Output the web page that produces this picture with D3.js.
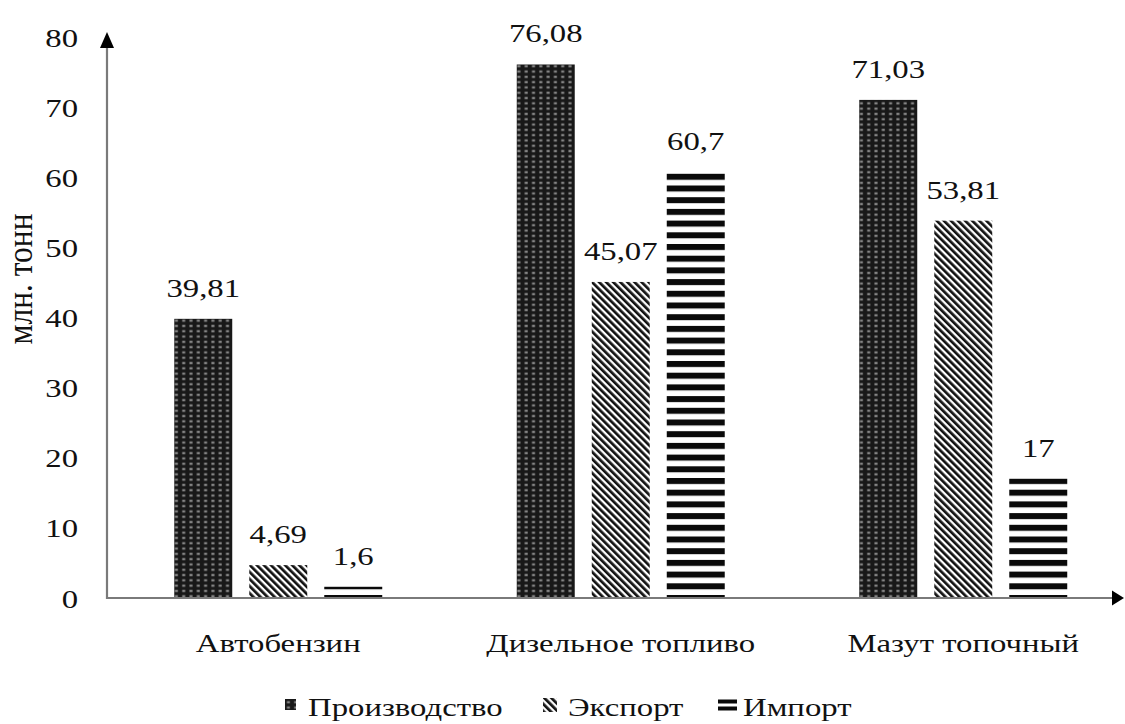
<!DOCTYPE html>
<html>
<head>
<meta charset="utf-8">
<script src="https://cdn.jsdelivr.net/npm/d3@7"></script>
<style>
  html, body { margin: 0; padding: 0; background: #fff; }
  svg text { font-family: "Liberation Serif", "Times New Roman", serif; fill: #111; }
</style>
</head>
<body>
<svg id="chart" width="1125" height="724"></svg>
<script>
// Petroleum products, million tonnes
const categories = ["Автобензин", "Дизельное топливо", "Мазут топочный"];
const seriesNames = ["Производство", "Экспорт", "Импорт"];
const production = [39.81, 76.08, 71.03];
const exportVals = [4.69, 45.07, 53.81];
const importVals = [1.6, 60.7, 17];
const yTicks = [0, 10, 20, 30, 40, 50, 60, 70, 80];
const yTitle = "млн. тонн";

const seriesValues = [production, exportVals, importVals];
const fmt = v => String(v).replace(".", ",");
const SX = 1.26; // horizontal stretch of lettering

const svg = d3.select("#chart");
const defs = svg.append("defs");

const x0 = 107, x1 = 1134.5, yBase = 598, yTop = 37;
const y = d3.scaleLinear().domain([0, 80]).range([yBase, yTop]);
const xGroup = d3.scaleBand().domain(categories).range([x0, x1]).padding(0);
const gw = xGroup.bandwidth();
const xSeries = d3.scaleBand().domain(seriesNames)
  .range([(gw - 225) / 2, (gw + 225) / 2])
  .paddingInner(0.227).paddingOuter(0.1135);

// fill patterns
const pDots = defs.append("pattern").attr("id", "pat0")
  .attr("patternUnits", "userSpaceOnUse").attr("width", 7.3).attr("height", 5.3);
pDots.append("rect").attr("width", 7.3).attr("height", 5.3).attr("fill", "#181818");
pDots.append("rect").attr("x", 2.2).attr("y", 1.5).attr("width", 3).attr("height", 2.3).attr("fill", "#858585");

const pDiag = defs.append("pattern").attr("id", "pat1")
  .attr("patternUnits", "userSpaceOnUse").attr("width", 5).attr("height", 10)
  .attr("patternTransform", "rotate(-45)");
pDiag.append("rect").attr("width", 5).attr("height", 10).attr("fill", "#fff");
pDiag.append("rect").attr("x", 0).attr("width", 2.7).attr("height", 10).attr("fill", "#111");

const pHoriz = defs.append("pattern").attr("id", "pat2")
  .attr("patternUnits", "userSpaceOnUse").attr("width", 10).attr("height", 11.7)
  .attr("y", yBase - 3);
pHoriz.append("rect").attr("width", 10).attr("height", 11.7).attr("fill", "#fff");
pHoriz.append("rect").attr("y", 0).attr("width", 10).attr("height", 6).attr("fill", "#0a0a0a");

const fills = ["url(#pat0)", "url(#pat1)", "url(#pat2)"];

// bars and value labels
const groups = svg.append("g").selectAll("g").data(categories).join("g")
  .attr("transform", d => `translate(${xGroup(d)},0)`);

groups.each(function(cat, ci) {
  const g = d3.select(this);
  const rows = seriesNames.map((s, si) => ({ s, si, v: seriesValues[si][ci] }));
  g.selectAll("rect.bar").data(rows).join("rect").attr("class", "bar")
    .attr("x", d => xSeries(d.s))
    .attr("y", d => y(d.v))
    .attr("width", xSeries.bandwidth())
    .attr("height", d => yBase - y(d.v))
    .attr("fill", d => fills[d.si]);
  g.selectAll("text.val").data(rows).join("text").attr("class", "val")
    .attr("transform", d => `translate(${xSeries(d.s) + xSeries.bandwidth() / 2},${y(d.v) - 22}) scale(${SX},1)`)
    .attr("text-anchor", "middle")
    .attr("font-size", 26)
    .text(d => fmt(d.v));
});

// axes with arrowheads
const axisColor = "#7a7a7a";
svg.append("line").attr("x1", x0).attr("x2", x0).attr("y1", yBase + 1).attr("y2", 46)
  .attr("stroke", axisColor).attr("stroke-width", 2.2);
svg.append("path").attr("d", `M${x0},32 L${x0 - 7},48 L${x0 + 7},48 Z`).attr("fill", "#000");
svg.append("line").attr("x1", x0 - 1).attr("x2", 1114).attr("y1", yBase).attr("y2", yBase)
  .attr("stroke", axisColor).attr("stroke-width", 2.2);
svg.append("path").attr("d", `M1124,${yBase} L1112,${yBase - 7.5} L1112,${yBase + 7.5} Z`).attr("fill", "#000");

// y tick labels
const yAxis = svg.append("g").attr("transform", `translate(${x0},0)`)
  .call(d3.axisLeft(y).tickValues(yTicks).tickSize(0).tickFormat(d3.format("d")));
yAxis.select(".domain").remove();
yAxis.selectAll(".tick text")
  .attr("x", null).attr("dy", null)
  .attr("transform", `translate(-29,9) scale(${SX},1)`)
  .attr("text-anchor", "end")
  .attr("font-family", "Liberation Serif, serif")
  .attr("font-size", 26)
  .attr("fill", "#111");

// y title
svg.append("text")
  .attr("transform", `translate(32,279) rotate(-90) scale(1.05,1.22)`)
  .attr("text-anchor", "middle")
  .attr("font-size", 30)
  .text(yTitle);

// category labels
svg.append("g").selectAll("text").data(categories).join("text")
  .attr("transform", d => `translate(${xGroup(d) + gw / 2},652) scale(${SX},1)`)
  .attr("text-anchor", "middle")
  .attr("font-size", 26)
  .text(d => d);

// legend
const legendItems = [
  { name: seriesNames[0], sx: 285, tx: 308 },
  { name: seriesNames[1], sx: 543, tx: 568 },
  { name: seriesNames[2], sx: 718, tx: 743 }
];
const lg = svg.append("g");
lg.append("rect").attr("x", legendItems[0].sx).attr("y", 699).attr("width", 11).attr("height", 11)
  .attr("fill", fills[0]);
lg.append("rect").attr("x", legendItems[1].sx).attr("y", 698).attr("width", 14).attr("height", 14)
  .attr("fill", fills[1]);
lg.append("rect").attr("x", legendItems[2].sx).attr("y", 699.5).attr("width", 19).attr("height", 4)
  .attr("fill", "#0a0a0a");
lg.append("rect").attr("x", legendItems[2].sx).attr("y", 706.5).attr("width", 19).attr("height", 4)
  .attr("fill", "#0a0a0a");
lg.selectAll("text").data(legendItems).join("text")
  .attr("transform", d => `translate(${d.tx},716) scale(${SX},1)`)
  .attr("font-size", 26)
  .text(d => d.name);
</script>
</body>
</html>
